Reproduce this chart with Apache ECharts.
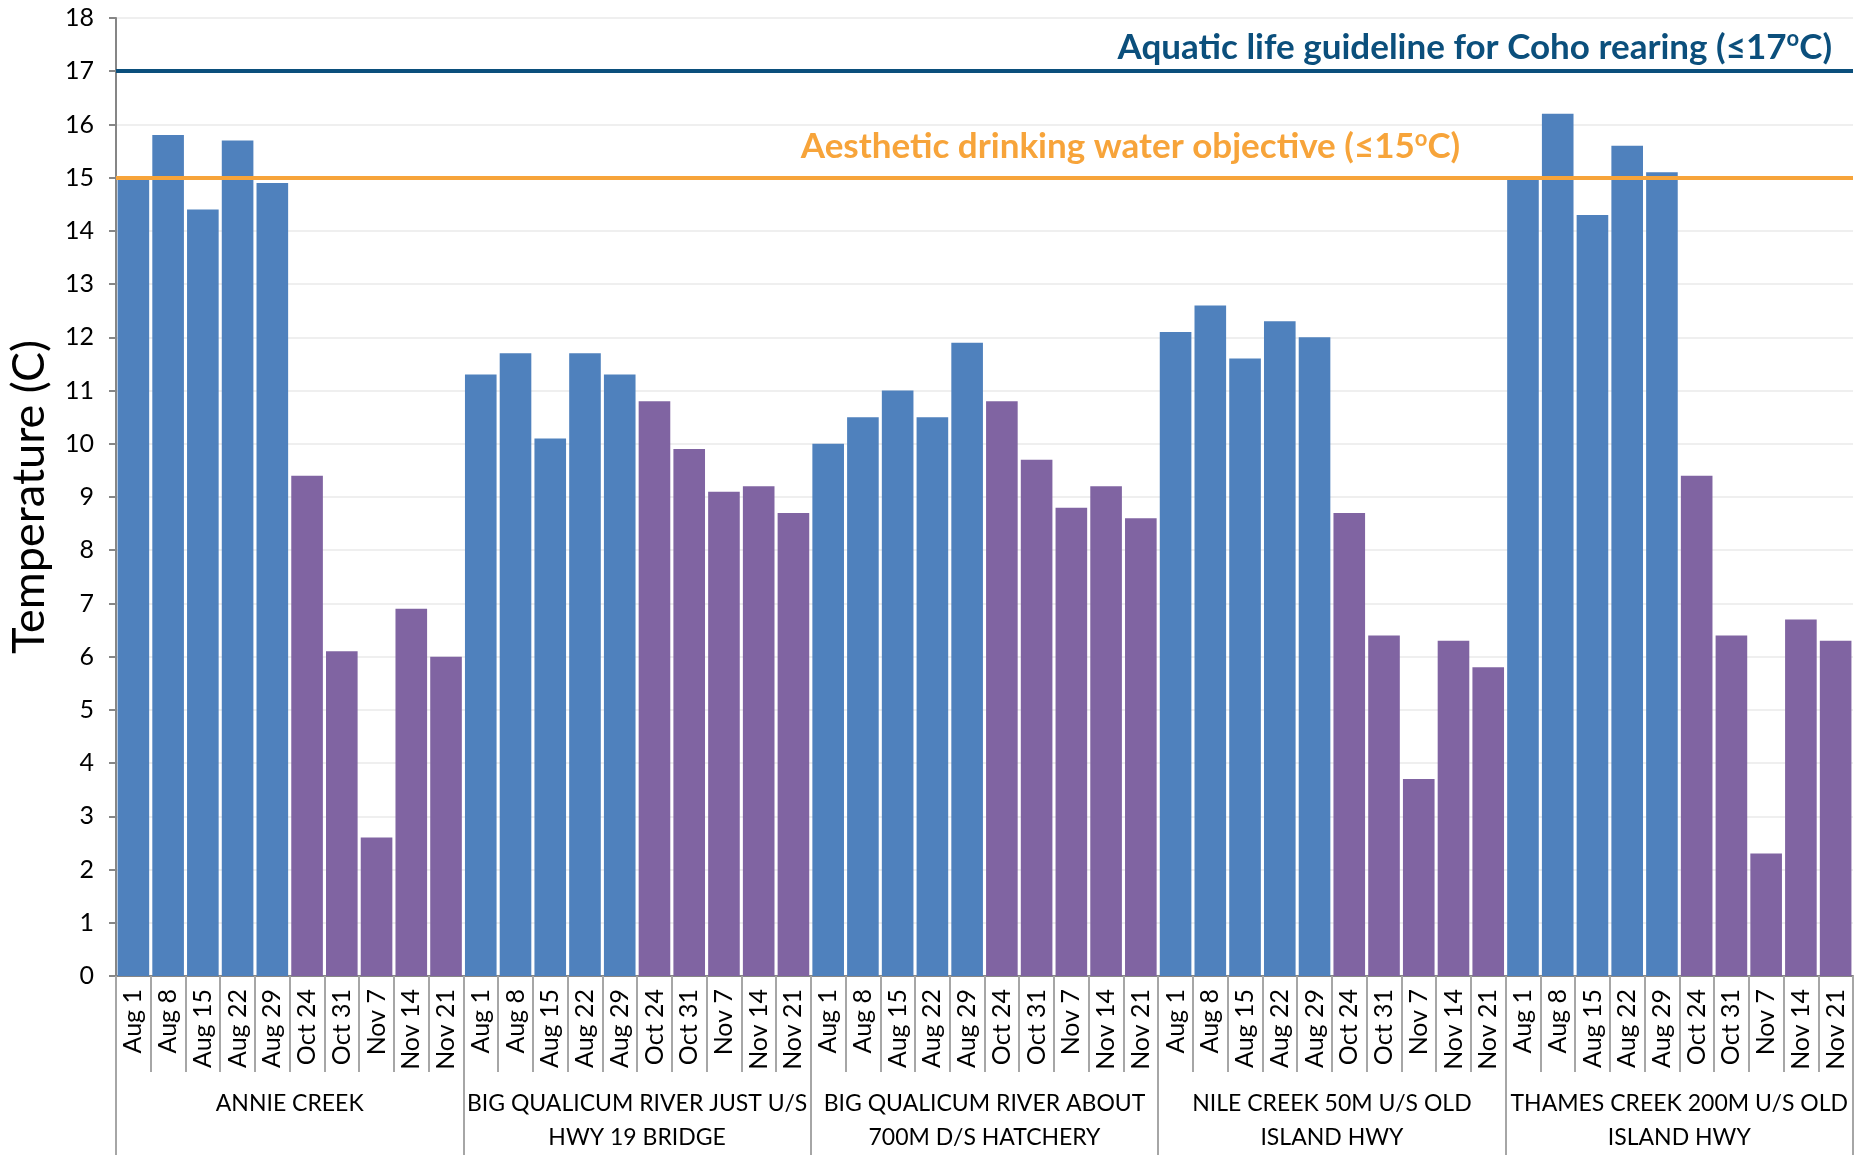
<!DOCTYPE html>
<html>
<head>
<meta charset="utf-8">
<script src="https://cdn.jsdelivr.net/npm/echarts@6/dist/echarts.min.js"></script>
<style>
  html, body { margin: 0; padding: 0; background: #fff; }
  #main { width: 1860px; height: 1155px; }
</style>
</head>
<body>
<div id="main"></div>
<script>
// sampling dates, same for every site
var dates = ['Aug 1', 'Aug 8', 'Aug 15', 'Aug 22', 'Aug 29', 'Oct 24', 'Oct 31', 'Nov 7', 'Nov 14', 'Nov 21']
var sites = [
  'ANNIE CREEK',
  'BIG QUALICUM RIVER JUST U/S\nHWY 19 BRIDGE',
  'BIG QUALICUM RIVER ABOUT\n700M D/S HATCHERY',
  'NILE CREEK 50M U/S OLD\nISLAND HWY',
  'THAMES CREEK 200M U/S OLD\nISLAND HWY'
]
var annieCreek = [15.0, 15.8, 14.4, 15.7, 14.9, 9.4, 6.1, 2.6, 6.9, 6.0]
var bigQualicumHwy19 = [11.3, 11.7, 10.1, 11.7, 11.3, 10.8, 9.9, 9.1, 9.2, 8.7]
var bigQualicumHatchery = [10.0, 10.5, 11.0, 10.5, 11.9, 10.8, 9.7, 8.8, 9.2, 8.6]
var nileCreek = [12.1, 12.6, 11.6, 12.3, 12.0, 8.7, 6.4, 3.7, 6.3, 5.8]
var thamesCreek = [15.0, 16.2, 14.3, 15.6, 15.1, 9.4, 6.4, 2.3, 6.7, 6.3]
var yTicks = { min: 0, max: 18, interval: 1 }
var cohoGuideline = 17
var drinkingObjective = 15

var font = 'Lato, "Open Sans", sans-serif'
var categories = []
sites.forEach(function () { categories = categories.concat(dates) })
var values = [].concat(annieCreek, bigQualicumHwy19, bigQualicumHatchery, nileCreek, thamesCreek)

var myChart = echarts.init(document.getElementById('main'))
var option = {
  animation: false,
  grid: { left: 116, right: 7, top: 18, bottom: 179, containLabel: false, outerBoundsMode: 'none' },
  xAxis: [
    {
      type: 'category',
      data: categories,
      axisLine: { lineStyle: { color: '#868686', width: 2 } },
      axisTick: { show: true, interval: 0, length: 96, lineStyle: { color: '#a6a6a6', width: 2 } },
      axisLabel: {
        interval: 0,
        rotate: 90,
        margin: 13,
        fontSize: 25,
        fontFamily: font,
        color: '#000'
      }
    },
    {
      type: 'category',
      data: sites,
      position: 'bottom',
      axisLine: { show: false },
      axisTick: { show: true, interval: 0, length: 179, lineStyle: { color: '#a6a6a6', width: 2 } },
      axisLabel: {
        interval: 0,
        margin: 111,
        fontSize: 23,
        lineHeight: 34,
        fontFamily: font,
        color: '#000'
      }
    }
  ],
  yAxis: {
    type: 'value',
    min: yTicks.min,
    max: yTicks.max,
    interval: yTicks.interval,
    name: 'Temperature (C)',
    nameLocation: 'middle',
    nameRotate: 90,
    nameGap: 64,
    nameTextStyle: { fontSize: 45, fontFamily: font, color: '#000' },
    axisLine: { show: true, lineStyle: { color: '#868686', width: 2 } },
    axisTick: { show: true, length: 7, lineStyle: { color: '#868686', width: 2 } },
    axisLabel: { margin: 22, fontSize: 25, fontFamily: font, color: '#000' },
    splitLine: { lineStyle: { color: '#efefef', width: 2 } }
  },
  series: [
    {
      name: 'Temperature',
      type: 'bar',
      xAxisIndex: 0,
      barCategoryGap: '9%',
      data: values,
      itemStyle: {
        color: function (params) {
          return params.name.indexOf('Aug') === 0 ? '#4f81bd' : '#8064a2'
        }
      },
      markLine: {
        silent: true,
        symbol: 'none',
        animation: false,
        data: [
          {
            yAxis: cohoGuideline,
            lineStyle: { color: '#0b4f7c', width: 4, type: 'solid' },
            label: {
              position: 'insideEndTop',
              distance: 5,
              padding: [0, 16, 0, 0],
              formatter: '{t|Aquatic life guideline for Coho rearing (≤17}{s|o}{t|C)}',
              rich: {
                t: { fontSize: 35, fontWeight: 'bold', fontFamily: font, color: '#0b4f7c', lineHeight: 38 },
                s: { fontSize: 22, fontWeight: 'bold', fontFamily: font, color: '#0b4f7c', lineHeight: 22, verticalAlign: 'top' }
              }
            }
          },
          {
            yAxis: drinkingObjective,
            lineStyle: { color: '#f7a43a', width: 4, type: 'solid' },
            label: {
              position: 'insideMiddleTop',
              distance: 12,
              padding: [0, 0, 0, 292],
              formatter: '{t|Aesthetic drinking water objective (≤15}{s|o}{t|C)}',
              rich: {
                t: { fontSize: 35, fontWeight: 'bold', fontFamily: font, color: '#f7a43a', lineHeight: 38 },
                s: { fontSize: 22, fontWeight: 'bold', fontFamily: font, color: '#f7a43a', lineHeight: 22, verticalAlign: 'top' }
              }
            }
          }
        ]
      }
    }
  ]
}
myChart.setOption(option)
</script>
</body>
</html>
